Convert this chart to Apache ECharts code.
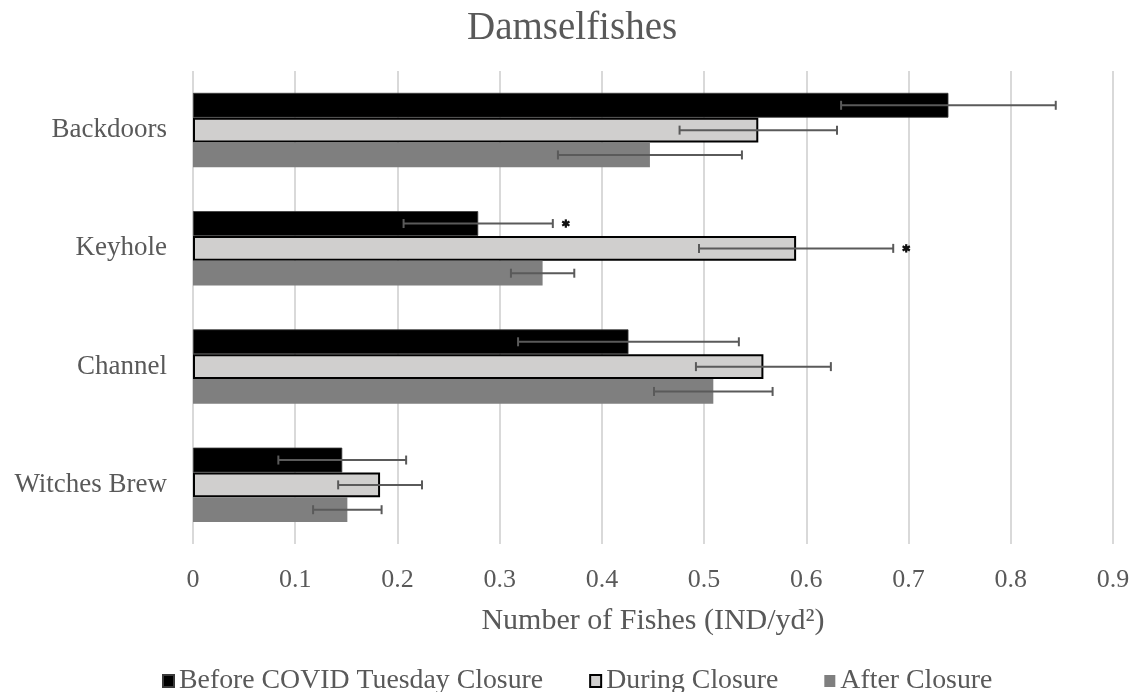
<!DOCTYPE html>
<html>
<head>
<meta charset="utf-8">
<title>Damselfishes</title>
<script src="https://cdn.jsdelivr.net/npm/echarts@6/dist/echarts.min.js"></script>
<style>
  html, body { margin: 0; padding: 0; background: #ffffff; }
  #chart { width: 1133px; height: 692px; }
</style>
</head>
<body>
<div id="chart"></div>
<script>
// Sites surveyed (top to bottom)
const sites = ['Backdoors', 'Keyhole', 'Channel', 'Witches Brew'];

// Mean density (IND/yd²) per period
const beforeClosure = [0.739, 0.279, 0.426, 0.146];
const duringClosure = [0.553, 0.590, 0.558, 0.183];
const afterClosure  = [0.447, 0.342, 0.509, 0.151];

// Error bar half-widths
const beforeErr = [0.105, 0.073, 0.108, 0.0625];
const duringErr = [0.077, 0.095, 0.066, 0.041];
const afterErr  = [0.090, 0.031, 0.058, 0.0335];

// Significance markers (1 = asterisk after the error bar)
const beforeSig = [0, 1, 0, 0];
const duringSig = [0, 1, 0, 0];
const afterSig  = [0, 0, 0, 0];

const seriesNames = ['Before COVID Tuesday Closure', 'During Closure', 'After Closure'];
const xTicks = [0, 0.1, 0.2, 0.3, 0.4, 0.5, 0.6, 0.7, 0.8, 0.9];

const FONT = "'Liberation Serif', 'Times New Roman', serif";
const TEXT = '#595959';
const CAT_GAP = 0.37;   // share of each band left empty

function errorSeries(idx, values, errs, sig) {
  return {
    type: 'custom',
    name: 'err' + idx,
    z: 5,
    silent: true,
    encode: { x: 0, y: 1 },
    data: values.map((v, i) => [v, i, errs[i], sig[i]]),
    renderItem: function (params, api) {
      const v = api.value(0), ci = api.value(1), e = api.value(2), s = api.value(3);
      const lo = api.coord([v - e, ci]);
      const hi = api.coord([v + e, ci]);
      const band = api.size([0, 1])[1];
      const bw = band * (1 - CAT_GAP) / 3;
      const y = lo[1] + (idx - 1) * bw;
      const stroke = { stroke: '#5a5a5a', lineWidth: 2 };
      const children = [
        { type: 'line', shape: { x1: lo[0], y1: y, x2: hi[0], y2: y }, style: stroke },
        { type: 'line', shape: { x1: lo[0], y1: y - 4.5, x2: lo[0], y2: y + 4.5 }, style: stroke },
        { type: 'line', shape: { x1: hi[0], y1: y - 4.5, x2: hi[0], y2: y + 4.5 }, style: stroke }
      ];
      if (s) {
        const cx = hi[0] + 13, r = 4.2;
        const star = { stroke: '#111', lineWidth: 2.2 };
        for (let k = 0; k < 3; k++) {
          const a = Math.PI / 2 + k * Math.PI / 3;
          children.push({
            type: 'line',
            shape: { x1: cx - r * Math.cos(a), y1: y - r * Math.sin(a), x2: cx + r * Math.cos(a), y2: y + r * Math.sin(a) },
            style: star
          });
        }
        children.push({ type: 'circle', shape: { cx: cx, cy: y, r: 2.4 }, style: { fill: '#111' } });
      }
      return { type: 'group', children: children };
    }
  };
}

const chart = echarts.init(document.getElementById('chart'), null, { renderer: 'canvas' });

chart.setOption({
  animation: false,
  backgroundColor: '#ffffff',
  title: {
    text: 'Damselfishes',
    left: 467,
    top: 9,
    padding: 0,
    textStyle: { fontFamily: FONT, fontSize: 39, fontWeight: 'normal', color: TEXT }
  },
  legend: {
    data: seriesNames,
    left: 157,
    top: 662,
    icon: 'rect',
    itemWidth: 11,
    itemHeight: 12,
    itemGap: 46,
    textStyle: { fontFamily: FONT, fontSize: 27.8, color: TEXT }
  },
  grid: { left: 193, right: 20, top: 71, bottom: 148, containLabel: false },
  xAxis: {
    type: 'value',
    min: 0,
    max: 0.9,
    interval: 0.1,
    name: 'Number of Fishes (IND/yd²)',
    nameLocation: 'middle',
    nameGap: 62,
    nameTextStyle: { fontFamily: FONT, fontSize: 30, color: TEXT },
    axisLine: { show: false },
    axisTick: { show: false },
    axisLabel: {
      fontFamily: FONT, fontSize: 26, color: TEXT, margin: 23,
      formatter: function (v) {
        const t = xTicks.find(x => Math.abs(x - v) < 1e-9);
        return t === undefined ? '' : String(t);
      }
    },
    splitLine: { show: true, lineStyle: { color: '#d9d9d9', width: 2 } }
  },
  yAxis: {
    type: 'category',
    data: sites,
    inverse: true,
    axisLine: { show: false },
    axisTick: { show: false },
    axisLabel: { fontFamily: FONT, fontSize: 27, color: TEXT, margin: 26 },
    splitLine: { show: false }
  },
  series: [
    {
      name: seriesNames[0], type: 'bar', data: beforeClosure,
      barGap: '0%', barCategoryGap: (CAT_GAP * 100) + '%',
      itemStyle: { color: '#000000', borderColor: '#3a3a3a', borderWidth: 0.8 }
    },
    {
      name: seriesNames[1], type: 'bar', data: duringClosure,
      barGap: '0%', barCategoryGap: (CAT_GAP * 100) + '%',
      itemStyle: { color: '#d0cfce', borderColor: '#000000', borderWidth: 2 }
    },
    {
      name: seriesNames[2], type: 'bar', data: afterClosure,
      barGap: '0%', barCategoryGap: (CAT_GAP * 100) + '%',
      itemStyle: { color: '#7f7f7f' }
    },
    errorSeries(0, beforeClosure, beforeErr, beforeSig),
    errorSeries(1, duringClosure, duringErr, duringSig),
    errorSeries(2, afterClosure, afterErr, afterSig)
  ]
});
</script>
</body>
</html>
